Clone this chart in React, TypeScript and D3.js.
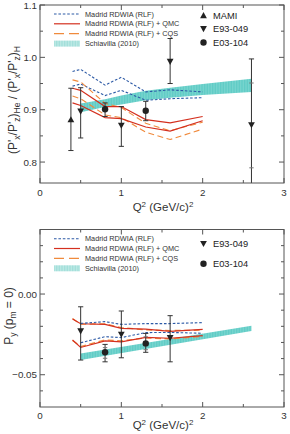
import React from "react";
import * as d3 from "d3";

// ---------- data: top panel, polarization-transfer ratio ----------
const q2Theory = [0.4, 0.5, 0.8, 1.0, 1.3, 1.6, 2.0];
const rlfUpper = [0.973, 0.977, 0.947, 0.962, 0.934, 0.938, 0.934];
const rlfLower = [0.945, 0.949, 0.927, 0.937, 0.918, 0.921, 0.923];
const qmcUpper = [0.941, 0.937, 0.906, 0.906, 0.881, 0.875, 0.887];
const qmcLower = [0.913, 0.908, 0.885, 0.883, 0.867, 0.859, 0.879];
const cqsUpper = [0.957, 0.953, 0.912, 0.904, 0.874, 0.86, 0.876];
const cqsLower = [0.926, 0.921, 0.89, 0.885, 0.857, 0.843, 0.863];

const q2Band = [0.5, 0.8, 1.0, 1.3, 1.6, 2.0, 2.6];
const bandLow = [0.895, 0.905, 0.91, 0.918, 0.923, 0.928, 0.934];
const bandHigh = [0.912, 0.92, 0.927, 0.936, 0.942, 0.949, 0.959];

const mamiQ2 = [0.38];
const mamiVal = [0.881];
const mamiLo = [0.822];
const mamiHi = [0.941];

const e93Q2 = [0.5, 1.0, 1.6, 2.6];
const e93Val = [0.897, 0.87, 0.992, 0.871];
const e93Lo = [0.846, 0.83, 0.95, 0.745];
const e93Hi = [0.942, 0.906, 1.036, 0.997];
const e93InLo = [null, null, null, 0.789];
const e93InHi = [null, null, null, 0.951];

const e03Q2 = [0.8, 1.3];
const e03Val = [0.901, 0.898];
const e03Lo = [0.887, 0.879];
const e03Hi = [0.913, 0.916];

// ---------- data: bottom panel, induced polarization ----------
const q2TheoryB = [0.4, 0.5, 0.8, 1.0, 1.3, 1.6, 2.0];
const q2RlfB = [0.5, 0.8, 1.0, 1.3, 1.6, 2.0];
const rlfUpperB = [-0.0182, -0.0171, -0.0188, -0.0183, -0.0183, -0.0177];
const rlfLowerB = [-0.0302, -0.0264, -0.027, -0.0239, -0.0238, -0.0243];
const qmcUpperB = [-0.0155, -0.0184, -0.0188, -0.0213, -0.0217, -0.0231, -0.0219];
const qmcLowerB = [-0.0285, -0.0331, -0.029, -0.0296, -0.0268, -0.0274, -0.0258];
const cqsUpperB = [-0.0152, -0.0187, -0.0184, -0.0208, -0.0222, -0.0226, -0.0224];
const cqsLowerB = [-0.0288, -0.0325, -0.0284, -0.029, -0.0272, -0.0278, -0.0262];

const q2BandB = [0.5, 2.6];
const bandLowB = [-0.0409, -0.0229];
const bandHighB = [-0.0368, -0.0196];

const e93Q2B = [0.5, 1.0, 1.6];
const e93ValB = [-0.0229, -0.025, -0.0271];
const e93LoB = [-0.0409, -0.0395, -0.042];
const e93HiB = [-0.0079, -0.0105, -0.0134];

const e03Q2B = [0.8, 1.3];
const e03ValB = [-0.0361, -0.0306];
const e03LoB = [-0.042, -0.0361];
const e03HiB = [-0.0312, -0.0244];
const e03InLoB = [-0.0398, -0.0345];
const e03InHiB = [-0.0332, -0.0265];

// ---------- axis ticks ----------
const xMajor = [0, 1, 2, 3];
const xMinor = [0.5, 1.5, 2.5];
const yMajorTop = [0.8, 0.9, 1.0, 1.1];
const yMinorTop = [0.85, 0.95, 1.05];
const yMajorBot = [0.0, -0.05];
const yMinorBot = [0.03, 0.02, 0.01, -0.01, -0.02, -0.03, -0.04, -0.06];

const legendLines = [
  "Madrid RDWIA (RLF)",
  "Madrid RDWIA (RLF) + QMC",
  "Madrid RDWIA (RLF) + CQS",
  "Schiavilla (2010)",
];

const FONT = "'Liberation Sans', Arial, Helvetica, sans-serif";
const BLUE = "#2d5aa6";
const RED = "#d4301f";
const ORANGE = "#f08a3c";
const FRAME = "#555";
const BAR = "#333";

type Pt = [number, number];

const zip = (xs: number[], ys: number[]): Pt[] => xs.map((x, i) => [x, ys[i]]);

function Marker({ kind, x, y }: { kind: string; x: number; y: number }) {
  if (kind === "circle") return <circle cx={x} cy={y} r={3.2} fill="#222" />;
  const s = 3.4;
  const d =
    kind === "up"
      ? `M${x},${y - s}L${x + s},${y + s * 0.8}L${x - s},${y + s * 0.8}Z`
      : `M${x},${y + s}L${x + s},${y - s * 0.8}L${x - s},${y - s * 0.8}Z`;
  return <path d={d} fill="#222" />;
}

function ErrorBars({
  xs, vals, lo, hi, inLo, inHi, kind, x, y, clipTop, clipBot,
}: any) {
  return (
    <g>
      {xs.map((q: number, i: number) => {
        const cx = x(q);
        const yTop = Math.max(y(hi[i]), clipTop);
        const yBot = Math.min(y(lo[i]), clipBot);
        const capHalf = 2.6;
        return (
          <g key={i}>
            <line x1={cx} x2={cx} y1={yTop} y2={yBot} stroke={BAR} strokeWidth={1} />
            {y(hi[i]) >= clipTop && (
              <line x1={cx - capHalf} x2={cx + capHalf} y1={y(hi[i])} y2={y(hi[i])} stroke={BAR} strokeWidth={1} />
            )}
            {y(lo[i]) <= clipBot && (
              <line x1={cx - capHalf} x2={cx + capHalf} y1={y(lo[i])} y2={y(lo[i])} stroke={BAR} strokeWidth={1} />
            )}
            {inLo && inLo[i] != null && (
              <line x1={cx - 2.2} x2={cx + 2.2} y1={y(inLo[i])} y2={y(inLo[i])} stroke="#777" strokeWidth={1} />
            )}
            {inHi && inHi[i] != null && (
              <line x1={cx - 2.2} x2={cx + 2.2} y1={y(inHi[i])} y2={y(inHi[i])} stroke="#777" strokeWidth={1} />
            )}
            <Marker kind={kind} x={cx} y={y(vals[i])} />
          </g>
        );
      })}
    </g>
  );
}

function Frame({ x, y, left, right, top, bottom, yMajor, yMinor, yFmt, tickDy, titleDy }: any) {
  const ticks: any[] = [];
  const maj = 5, min = 3;
  xMajor.forEach((v: number, i: number) => {
    const px = x(v);
    ticks.push(<line key={"xb" + i} x1={px} x2={px} y1={bottom} y2={bottom - maj} />);
    ticks.push(<line key={"xt" + i} x1={px} x2={px} y1={top} y2={top + maj} />);
  });
  xMinor.forEach((v: number, i: number) => {
    const px = x(v);
    ticks.push(<line key={"xbm" + i} x1={px} x2={px} y1={bottom} y2={bottom - min} />);
    ticks.push(<line key={"xtm" + i} x1={px} x2={px} y1={top} y2={top + min} />);
  });
  yMajor.forEach((v: number, i: number) => {
    const py = y(v);
    ticks.push(<line key={"yl" + i} x1={left} x2={left + maj} y1={py} y2={py} />);
    ticks.push(<line key={"yr" + i} x1={right} x2={right - maj} y1={py} y2={py} />);
  });
  yMinor.forEach((v: number, i: number) => {
    const py = y(v);
    ticks.push(<line key={"ylm" + i} x1={left} x2={left + min} y1={py} y2={py} />);
    ticks.push(<line key={"yrm" + i} x1={right} x2={right - min} y1={py} y2={py} />);
  });
  return (
    <g>
      <rect x={left} y={top} width={right - left} height={bottom - top} fill="none" stroke={FRAME} strokeWidth={1} />
      <g stroke={FRAME} strokeWidth={1}>{ticks}</g>
      <g fontFamily={FONT} fontSize={9.8} fill="#333">
        {xMajor.map((v: number, i: number) => (
          <text key={i} x={x(v)} y={bottom + tickDy} textAnchor="middle">{v}</text>
        ))}
        {yMajor.map((v: number, i: number) => (
          <text key={i} x={left - 3} y={y(v) + 3.5} textAnchor="end">{yFmt(v)}</text>
        ))}
      </g>
      <text x={(x(0) + x(3)) / 2 + 1} y={bottom + titleDy} textAnchor="middle" fontFamily={FONT} fontSize={11.5} fill="#333">
        Q<tspan dy={-4} fontSize={8}>2</tspan>
        <tspan dy={4}> (GeV/c)</tspan>
        <tspan dy={-4} fontSize={8}>2</tspan>
      </text>
    </g>
  );
}

function Legend({ top, ids }: { top: number; ids: { hatchLegend: string } }) {
  const x1 = 54, x2 = 80, tx = 85;
  const rows = [top, top + 9.8, top + 19.6, top + 29.6];
  return (
    <g fontFamily={FONT} fontSize={7.3} fill="#333">
      <line x1={x1} x2={x2} y1={rows[0]} y2={rows[0]} stroke={BLUE} strokeWidth={1.1} strokeDasharray="2.6,1.8" />
      <line x1={x1} x2={x2} y1={rows[1]} y2={rows[1]} stroke={RED} strokeWidth={1.2} />
      <line x1={x1} x2={x2} y1={rows[2]} y2={rows[2]} stroke={ORANGE} strokeWidth={1.2} strokeDasharray="10,5" />
      <rect x={x1} y={rows[3] - 3} width={x2 - x1} height={6} fill={`url(#${ids.hatchLegend})`} />
      {legendLines.map((t, i) => (
        <text key={i} x={tx} y={rows[i] + 2.6}>{t}</text>
      ))}
    </g>
  );
}

function Curves({ x, y, sets }: any) {
  const line = d3.line<Pt>().x((d) => x(d[0])).y((d) => y(d[1]));
  return (
    <g fill="none">
      {sets.map((s: any, i: number) => (
        <path key={i} d={line(s.pts) || ""} stroke={s.color} strokeWidth={s.w} strokeDasharray={s.dash} />
      ))}
    </g>
  );
}

function Band({ x, y, xs, lo, hi, fill }: any) {
  const area = d3
    .area<number>()
    .x((d, i) => x(xs[i]))
    .y0((d, i) => y(lo[i]))
    .y1((d, i) => y(hi[i]));
  return <path d={area(xs) || ""} fill={fill} />;
}

export default function App() {
  const left = 40, right = 284;
  const x = d3.scaleLinear().domain([0, 3]).range([left, right]);

  const topT = 5, topB = 183;
  const yT = d3.scaleLinear().domain([0.76, 1.1]).range([topB, topT]);
  const botT = 229.5, botB = 407;
  const yB = d3.scaleLinear().domain([-0.07, 0.04]).range([botB, botT]);

  const setsTop = [
    { pts: zip(q2Theory, rlfUpper), color: BLUE, w: 1.1, dash: "2.6,1.8" },
    { pts: zip(q2Theory, rlfLower), color: BLUE, w: 1.1, dash: "2.6,1.8" },
    { pts: zip(q2Theory, cqsUpper), color: ORANGE, w: 1.1, dash: "6,3.5" },
    { pts: zip(q2Theory, cqsLower), color: ORANGE, w: 1.1, dash: "6,3.5" },
    { pts: zip(q2Theory, qmcUpper), color: RED, w: 1.2 },
    { pts: zip(q2Theory, qmcLower), color: RED, w: 1.2 },
  ];
  const setsBot = [
    { pts: zip(q2TheoryB, cqsUpperB), color: ORANGE, w: 1.2, dash: "6,3.5" },
    { pts: zip(q2TheoryB, cqsLowerB), color: ORANGE, w: 1.2, dash: "6,3.5" },
    { pts: zip(q2TheoryB, qmcUpperB), color: RED, w: 1.2 },
    { pts: zip(q2TheoryB, qmcLowerB), color: RED, w: 1.2 },
    { pts: zip(q2RlfB, rlfUpperB), color: BLUE, w: 1.1, dash: "2.6,1.8" },
    { pts: zip(q2RlfB, rlfLowerB), color: BLUE, w: 1.1, dash: "2.6,1.8" },
  ];

  const ids = { hatchLegend: "hatchLegend" };

  return (
    <svg width={290} height={434} style={{ position: "absolute", left: 0, top: 0, background: "#fff" }}>
      <defs>
        <pattern id="hatchBand" width={1.6} height={4} patternUnits="userSpaceOnUse">
          <rect width={1.6} height={4} fill="#5ecbc5" />
          <line x1={0.4} x2={0.4} y1={0} y2={4} stroke="#86d9d4" strokeWidth={0.6} />
        </pattern>
        <pattern id="hatchLegend" width={1.6} height={4} patternUnits="userSpaceOnUse">
          <rect width={1.6} height={4} fill="#bfe9e6" />
          <line x1={0.4} x2={0.4} y1={0} y2={4} stroke="#8fd6d1" strokeWidth={0.6} />
        </pattern>
        <clipPath id="clipTop"><rect x={left} y={topT} width={right - left} height={topB - topT} /></clipPath>
        <clipPath id="clipBot"><rect x={left} y={botT} width={right - left} height={botB - botT} /></clipPath>
      </defs>
      <rect width={290} height={434} fill="#fff" />

      {/* upper panel */}
      <g clipPath="url(#clipTop)">
        <Band x={x} y={yT} xs={q2Band} lo={bandLow} hi={bandHigh} fill="url(#hatchBand)" />
        <Curves x={x} y={yT} sets={setsTop} />
        <ErrorBars xs={mamiQ2} vals={mamiVal} lo={mamiLo} hi={mamiHi} kind="up" x={x} y={yT} clipTop={topT} clipBot={topB} />
        <ErrorBars xs={e93Q2} vals={e93Val} lo={e93Lo} hi={e93Hi} inLo={e93InLo} inHi={e93InHi} kind="down" x={x} y={yT} clipTop={topT} clipBot={topB} />
        <ErrorBars xs={e03Q2} vals={e03Val} lo={e03Lo} hi={e03Hi} kind="circle" x={x} y={yT} clipTop={topT} clipBot={topB} />
      </g>
      <Frame x={x} y={yT} left={left} right={right} top={topT} bottom={topB} yMajor={yMajorTop} yMinor={yMinorTop} yFmt={d3.format(".1f")} tickDy={13} titleDy={27.5} />
      <Legend top={14} ids={ids} />
      <g fontFamily={FONT} fontSize={9.3} fill="#222">
        <Marker kind="up" x={203.5} y={15.5} />
        <text x={213} y={18.8}>MAMI</text>
        <Marker kind="down" x={203.5} y={28.8} />
        <text x={213} y={32.2}>E93-049</text>
        <Marker kind="circle" x={203.5} y={42.5} />
        <text x={213} y={45.8}>E03-104</text>
      </g>
      <text transform="translate(17,100) rotate(-90)" textAnchor="middle" fontFamily={FONT} fontSize={12} fill="#333">
        (P'<tspan dy={3} fontSize={8.5}>x</tspan>
        <tspan dy={-3}>/P'</tspan>
        <tspan dy={3} fontSize={8.5}>z</tspan>
        <tspan dy={-3}>)</tspan>
        <tspan dy={3} fontSize={8.5}>He</tspan>
        <tspan dy={-3}> / (P'</tspan>
        <tspan dy={3} fontSize={8.5}>x</tspan>
        <tspan dy={-3}>/P'</tspan>
        <tspan dy={3} fontSize={8.5}>z</tspan>
        <tspan dy={-3}>)</tspan>
        <tspan dy={3} fontSize={8.5}>H</tspan>
      </text>

      {/* lower panel */}
      <g clipPath="url(#clipBot)">
        <Band x={x} y={yB} xs={q2BandB} lo={bandLowB} hi={bandHighB} fill="url(#hatchBand)" />
        <Curves x={x} y={yB} sets={setsBot} />
        <ErrorBars xs={e93Q2B} vals={e93ValB} lo={e93LoB} hi={e93HiB} kind="down" x={x} y={yB} clipTop={botT} clipBot={botB} />
        <ErrorBars xs={e03Q2B} vals={e03ValB} lo={e03LoB} hi={e03HiB} inLo={e03InLoB} inHi={e03InHiB} kind="circle" x={x} y={yB} clipTop={botT} clipBot={botB} />
      </g>
      <Frame x={x} y={yB} left={left} right={right} top={botT} bottom={botB} yMajor={yMajorBot} yMinor={yMinorBot} yFmt={d3.format(".2f")} tickDy={12} titleDy={21.5} />
      <Legend top={238.7} ids={ids} />
      <g fontFamily={FONT} fontSize={9.3} fill="#222">
        <Marker kind="down" x={203.5} y={243.7} />
        <text x={213} y={247}>E93-049</text>
        <Marker kind="circle" x={203.5} y={263.7} />
        <text x={213} y={267}>E03-104</text>
      </g>
      <text transform="translate(12.5,316) rotate(-90)" textAnchor="middle" fontFamily={FONT} fontSize={12} fill="#333">
        P<tspan dy={3} fontSize={8.5}>y</tspan>
        <tspan dy={-3}> (p</tspan>
        <tspan dy={3} fontSize={8.5}>m</tspan>
        <tspan dy={-3}> = 0)</tspan>
      </text>
    </svg>
  );
}
